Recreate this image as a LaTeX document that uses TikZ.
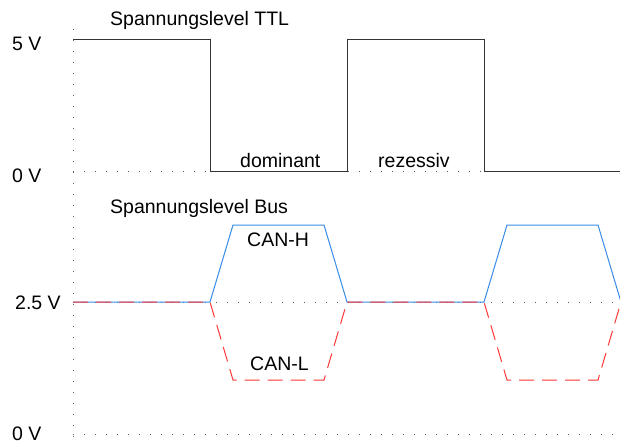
\documentclass[tikz,border=0pt]{standalone}
\usepackage{fontspec}
\setmainfont{Liberation Sans}
\definecolor{canhblue}{RGB}{55,140,230}
\definecolor{canlred}{RGB}{255,55,55}
\definecolor{gridgray}{RGB}{90,90,90}
\begin{document}
\begin{tikzpicture}[x=1pt,y=-1pt,
  lbl/.style={anchor=base west,inner sep=0pt,font=\fontsize{19.5}{20}\selectfont},
  guide/.style={gridgray,line width=1,dash pattern=on 1 off 10},
  ttl/.style={black!80,line width=1},
  canh/.style={canhblue,line width=1},
  canl/.style={canlred,line width=1,dash pattern=on 15 off 8}]
\useasboundingbox (0,0) rectangle (620,441);
\fill[white] (0,0) rectangle (620,441);

% guides
\draw[guide] (73,29) -- (73,441);
\draw[guide] (73,171) -- (620,171);
\draw[guide] (73,302) -- (620,302);
\draw[guide] (73,434) -- (620,434);

% TTL signal
\draw[ttl] (73,40) -- (210,40) -- (210,171) -- (347,171) -- (347,40)
  -- (484,40) -- (484,171) -- (620,171);

% bus signals
\draw[canh] (73,302) -- (210,302) -- (233,225) -- (324,225) -- (347,302)
  -- (484,302) -- (507,225) -- (598,225) -- (621,302);
\draw[canl] (73,302) -- (210,302) -- (233,380) -- (324,380) -- (347,302)
  -- (484,302) -- (507,380) -- (598,380) -- (621,302);

% labels
\node[lbl] (ttltitle) at (110,26) {Spannungslevel TTL};
\node[lbl] (v5) at (12,51) {5 V};
\node[lbl] (v0ttl) at (12,182) {0 V};
\node[lbl] (dom) at (240,167) {dominant};
\node[lbl] (rez) at (378,167) {rezessiv};
\node[lbl] (bustitle) at (110,213) {Spannungslevel Bus};
\node[lbl] (v25) at (15,309) {2.5 V};
\node[lbl] (v0bus) at (12,440) {0 V};
\node[lbl] (canhl) at (247,246) {CAN-H};
\node[lbl] (canll) at (250,370) {CAN-L};
\end{tikzpicture}
\end{document}
